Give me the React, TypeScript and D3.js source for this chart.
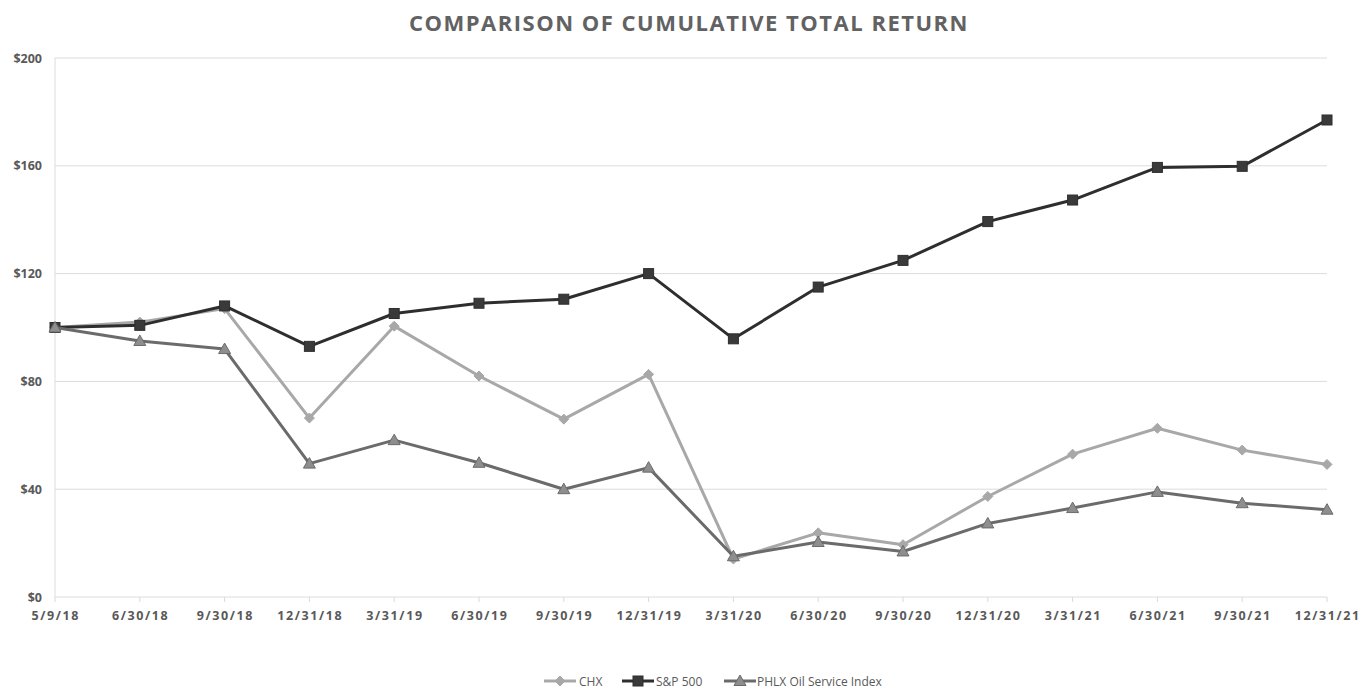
import React from "react";
import * as d3 from "d3";

const categories = ["5/9/18","6/30/18","9/30/18","12/31/18","3/31/19","6/30/19","9/30/19","12/31/19","3/31/20","6/30/20","9/30/20","12/31/20","3/31/21","6/30/21","9/30/21","12/31/21"];
const chx = [100, 102, 107, 66.4, 100.5, 82, 66, 82.6, 14.1, 23.8, 19.4, 37.3, 53, 62.6, 54.5, 49.2];
const sp500 = [100, 100.8, 108, 93, 105.2, 109, 110.5, 120, 95.8, 115, 124.9, 139.3, 147.3, 159.4, 159.8, 177];
const phlx = [100, 95, 92, 49.5, 58.2, 49.8, 40, 48, 15.1, 20.4, 16.9, 27.3, 33, 39, 34.8, 32.4];
const yTicks = [0, 40, 80, 120, 160, 200];

const W = 1360, H = 688;
const left = 55, right = 1327, top = 58, bottom = 597;

export default function App() {
  const x = d3.scalePoint<string>().domain(categories).range([left, right]);
  const y = d3.scaleLinear().domain([0, 200]).range([bottom, top]);
  const line = d3.line<number>().x((_, i) => x(categories[i])!).y((d) => y(d));

  const series = [
    { name: "CHX", data: chx, color: "#a8a8a8", marker: "diamond", fill: "#a8a8a8" },
    { name: "S&P 500", data: sp500, color: "#2e2e2e", marker: "square", fill: "#3a3a3a" },
    { name: "PHLX Oil Service Index", data: phlx, color: "#6b6b6b", marker: "triangle", fill: "#8e8e8e" },
  ];

  const marker = (type: string, cx: number, cy: number, color: string, fill: string, key: string) => {
    if (type === "square") return <rect key={key} x={cx - 5} y={cy - 5} width={10} height={10} fill={fill} stroke={color} strokeWidth={1} />;
    if (type === "diamond") return <path key={key} d={`M${cx},${cy - 5}L${cx + 5},${cy}L${cx},${cy + 5}L${cx - 5},${cy}Z`} fill={fill} stroke={fill} strokeWidth={1} />;
    return <path key={key} d={`M${cx},${cy - 6}L${cx + 6},${cy + 4.5}L${cx - 6},${cy + 4.5}Z`} fill={fill} stroke={color} strokeWidth={1} />;
  };

  const legendItems = [
    { s: series[0], lx: 544, tx: 579 },
    { s: series[1], lx: 622, tx: 656 },
    { s: series[2], lx: 724, tx: 757 },
  ];

  return (
    <svg width={W} height={H} style={{ position: "absolute", left: 0, top: 0, background: "#fff" }} fontFamily="'Open Sans', sans-serif">
      <text x={689} y={31} textAnchor="middle" fontSize={22} fontWeight={700} fill="#626262" letterSpacing={1.5}>COMPARISON OF CUMULATIVE TOTAL RETURN</text>
      {yTicks.map((t) => (
        <g key={t}>
          <line x1={left} x2={right} y1={y(t)} y2={y(t)} stroke="#dcdcdc" strokeWidth={1} />
          <text x={42} y={y(t) + 4.5} textAnchor="end" fontSize={12.5} fontWeight={700} fill="#595959">${t}</text>
        </g>
      ))}
      <line x1={left} x2={left} y1={top} y2={bottom} stroke="#dcdcdc" strokeWidth={1} />
      {categories.map((c) => (
        <g key={c}>
          <line x1={x(c)} x2={x(c)} y1={bottom} y2={bottom + 5} stroke="#d9d9d9" />
          <text x={x(c)! + 0.8} y={620} textAnchor="middle" fontSize={12.5} fontWeight={700} fill="#595959" letterSpacing={1.6}>{c}</text>
        </g>
      ))}
      {series.map((s) => (
        <g key={s.name}>
          <path d={line(s.data)!} fill="none" stroke={s.color} strokeWidth={3} strokeLinejoin="round" />
          {s.data.map((v, i) => marker(s.marker, x(categories[i])!, y(v), s.color, s.fill, s.name + i))}
        </g>
      ))}
      {legendItems.map(({ s, lx, tx }) => (
        <g key={s.name}>
          <line x1={lx} x2={lx + 32} y1={681} y2={681} stroke={s.color} strokeWidth={3} />
          {marker(s.marker, lx + 16, 681, s.color, s.fill, "lg" + s.name)}
          <text x={tx} y={685.5} fontSize={12} fill="#595959">{s.name}</text>
        </g>
      ))}
    </svg>
  );
}
